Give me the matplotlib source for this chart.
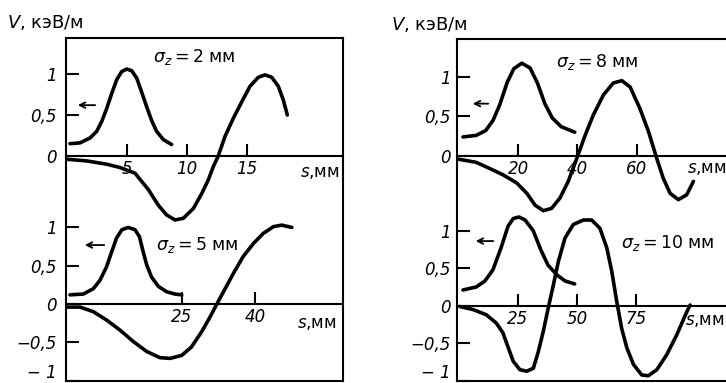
import matplotlib.pyplot as plt
from matplotlib.transforms import ScaledTranslation

# --- sigma_z = 2 mm (upper left) ---
s_bunch_2 = [0.25, 1.08, 1.92, 2.47, 2.89, 3.31, 3.72, 4.14, 4.56, 4.97, 5.39, 5.81,
             6.22, 6.64, 7.06, 7.47, 8.03, 8.72]
v_bunch_2 = [0.15, 0.16, 0.22, 0.30, 0.42, 0.58, 0.76, 0.93, 1.03, 1.06, 1.04, 0.95,
             0.78, 0.60, 0.43, 0.30, 0.20, 0.14]
s_wake_2 = [0.0, 1.64, 3.3, 4.4, 5.67, 6.78, 7.61, 8.31, 9.0, 9.69, 10.53, 11.22,
            11.78, 12.19, 12.6, 13.17, 13.86, 14.56, 15.25, 15.94, 16.5, 17.06,
            17.61, 18.03, 18.36]
v_wake_2 = [-0.04, -0.06, -0.10, -0.14, -0.21, -0.41, -0.60, -0.72, -0.78, -0.76,
            -0.64, -0.46, -0.29, -0.13, 0.0, 0.24, 0.46, 0.66, 0.85, 0.96, 0.99,
            0.96, 0.85, 0.68, 0.50]

# --- sigma_z = 5 mm (lower left) ---
s_bunch_5 = [2.05, 4.79, 6.84, 8.21, 9.58, 10.6, 11.6, 12.7, 14.0, 15.4, 16.3, 17.0,
             17.8, 18.8, 20.2, 21.9, 23.6, 25.0]
v_bunch_5 = [0.12, 0.13, 0.20, 0.31, 0.49, 0.68, 0.86, 0.97, 1.00, 0.97, 0.88, 0.70,
             0.51, 0.35, 0.23, 0.16, 0.13, 0.12]
s_wake_5 = [1.37, 4.1, 6.84, 9.58, 12.3, 15.05, 17.8, 20.5, 22.6, 25.0, 27.0, 29.1,
            30.8, 32.2, 33.9, 35.6, 37.6, 39.7, 41.7, 43.8, 45.5, 47.6]
v_wake_5 = [-0.04, -0.04, -0.10, -0.21, -0.34, -0.49, -0.62, -0.70, -0.71, -0.67,
            -0.56, -0.36, -0.17, 0.0, 0.20, 0.40, 0.62, 0.79, 0.92, 1.01, 1.03, 1.00]

# --- sigma_z = 8 mm (upper right) ---
s_bunch_8 = [1.35, 5.8, 9.0, 11.5, 13.7, 16.3, 18.5, 21.2, 24.0, 26.5, 29.0, 31.5,
             34.5, 39.1]
v_bunch_8 = [0.24, 0.26, 0.32, 0.45, 0.64, 0.93, 1.10, 1.17, 1.11, 0.92, 0.66, 0.48,
             0.37, 0.30]
s_wake_8 = [-0.3, 5.8, 10.5, 15.0, 19.5, 22.9, 25.7, 28.5, 31.3, 34.1, 36.9, 39.8,
            42.6, 45.4, 48.8, 52.1, 55.0, 57.8, 61.1, 64.0, 66.8, 69.0, 71.3, 74.1,
            76.9, 79.2]
v_wake_8 = [-0.04, -0.08, -0.16, -0.24, -0.34, -0.47, -0.62, -0.69, -0.66, -0.53,
            -0.32, -0.03, 0.26, 0.52, 0.77, 0.92, 0.95, 0.87, 0.60, 0.31, -0.03,
            -0.28, -0.47, -0.55, -0.49, -0.32]

# --- sigma_z = 10 mm (lower right) ---
s_bunch_10 = [1.7, 7.3, 11.0, 14.4, 17.8, 20.8, 23.0, 25.4, 28.0, 31.4, 34.7, 37.7,
              41.5, 44.9, 49.0]
v_bunch_10 = [0.21, 0.25, 0.33, 0.48, 0.77, 1.06, 1.16, 1.18, 1.14, 1.00, 0.74, 0.54,
              0.41, 0.33, 0.29]
s_wake_10 = [0.3, 5.9, 11.6, 15.8, 18.6, 20.9, 23.0, 25.8, 28.7, 31.5, 33.6, 35.7,
             37.8, 40.0, 42.1, 44.9, 48.4, 52.7, 56.2, 59.7, 62.6, 64.7, 66.8, 68.9,
             71.1, 73.9, 77.4, 80.2, 83.8, 88.0, 92.2, 96.5, 97.9]
v_wake_10 = [-0.01, -0.05, -0.12, -0.23, -0.36, -0.56, -0.74, -0.85, -0.87, -0.83,
             -0.61, -0.34, -0.03, 0.28, 0.59, 0.90, 1.08, 1.14, 1.14, 1.03, 0.77,
             0.46, 0.06, -0.30, -0.56, -0.78, -0.92, -0.93, -0.85, -0.65, -0.39,
             -0.08, 0.01]

ticks_top = [0, 0.5, 1]
labels_top = ['0', '0,5', '1']
ticks_bot = [-1, -0.5, 0, 0.5, 1]
labels_bot = ['\u2212 1', '\u22120,5', '0', '0,5', '1']

W, H = 726, 383
fig = plt.figure(figsize=(W / 100, H / 100), dpi=100)


def rect(x0, y0, x1, y1):
    return [x0 / W, 1 - y1 / H, (x1 - x0) / W, (y1 - y0) / H]


def frame(r, right=True):
    ax = fig.add_axes(r)
    ax.set_xticks([])
    ax.set_yticks([])
    for sp in ax.spines.values():
        sp.set_linewidth(1.5)
    ax.spines['right'].set_visible(right)
    return ax


def panel(r, xlim, ylim, xticks, yticks, ylabels, ypad):
    ax = fig.add_axes(r)
    ax.patch.set_visible(False)
    ax.set_xlim(*xlim)
    ax.set_ylim(*ylim)
    for k in ['top', 'left', 'right']:
        ax.spines[k].set_visible(False)
    ax.spines['bottom'].set_position(('data', 0))
    ax.spines['bottom'].set_linewidth(1.5)
    ax.set_xticks(xticks)
    ax.set_xticklabels([str(t) for t in xticks], fontsize=12, fontstyle='italic')
    ax.set_yticks(yticks)
    ax.set_yticklabels(ylabels, fontsize=12, fontstyle='italic')
    ax.tick_params(axis='x', direction='in', length=9, width=1.5, pad=3)
    ax.tick_params(axis='y', direction='in', length=9, width=1.5, pad=ypad)
    if yticks[0] < 0:
        # lift the "-1" label so it stays inside the picture
        lab = ax.get_yticklabels()[0]
        lab.set_transform(lab.get_transform() +
                          ScaledTranslation(0, 10 / 100, fig.dpi_scale_trans))
    return ax


def curves(ax, s1, v1, s2, v2):
    ax.plot(s1, v1, color='black', lw=2.6, solid_capstyle='round',
            solid_joinstyle='round')
    ax.plot(s2, v2, color='black', lw=2.6, solid_capstyle='round',
            solid_joinstyle='round')


def arrow(ax, x_head, x_tail, y):
    ax.annotate('', xy=(x_head, y), xytext=(x_tail, y),
                arrowprops=dict(arrowstyle='->', lw=1.3, color='black'))


def units(ax, x, y, ha):
    ax.text(x, y, r'$\mathit{s}$,мм', fontsize=12, ha=ha, va='center')


def sigma(ax, x, y, val):
    ax.text(x, y, r'$\sigma_z = \mathit{' + val + '}$ мм', fontsize=12.5,
            ha='center', va='center')


# left column
frame(rect(66, 38, 343, 381))
ax1 = panel(rect(66, 38, 343, 381), (-0.083, 23.0), (-2.744, 1.439),
            [5, 10, 15], ticks_top, labels_top, 6.5)
curves(ax1, s_bunch_2, v_bunch_2, s_wake_2, v_wake_2)
arrow(ax1, 0.67, 2.58, 0.62)
sigma(ax1, 10.6, 1.21, '2')
units(ax1, 22.7, -0.2, 'right')

ax2 = panel(rect(66, 38, 343, 381), (1.23, 58.1), (-1.005, 3.473),
            [25, 40], ticks_bot, labels_bot, 6.5)
curves(ax2, s_bunch_5, v_bunch_5, s_wake_5, v_wake_5)
arrow(ax2, 4.5, 9.65, 0.77)
sigma(ax2, 28.1, 0.77, '5')
units(ax2, 56.8, -0.25, 'right')

# right column
frame(rect(457, 39, 730, 381), right=False)
ax3 = panel(rect(457, 39, 730, 381), (-0.68, 91.55), (-2.837, 1.475),
            [20, 40, 60], ticks_top, labels_top, 4.3)
curves(ax3, s_bunch_8, v_bunch_8, s_wake_8, v_wake_8)
arrow(ax3, 3.7, 10.8, 0.66)
sigma(ax3, 46.6, 1.19, '8')
units(ax3, 77.0, -0.15, 'left')

ax4 = panel(rect(457, 39, 730, 381), (-0.85, 114.8), (-0.996, 3.546),
            [25, 50, 75], ticks_bot, labels_bot, 4.3)
curves(ax4, s_bunch_10, v_bunch_10, s_wake_10, v_wake_10)
arrow(ax4, 5.9, 15.7, 0.86)
sigma(ax4, 88.6, 0.84, '10')
units(ax4, 95.6, -0.19, 'left')

fig.text(7 / W, 1 - 22 / H, r'$\mathit{V}$, кэВ/м', fontsize=13, va='center')
fig.text(391 / W, 1 - 25 / H, r'$\mathit{V}$, кэВ/м', fontsize=13, va='center')

fig.savefig('out.png', dpi=100)
